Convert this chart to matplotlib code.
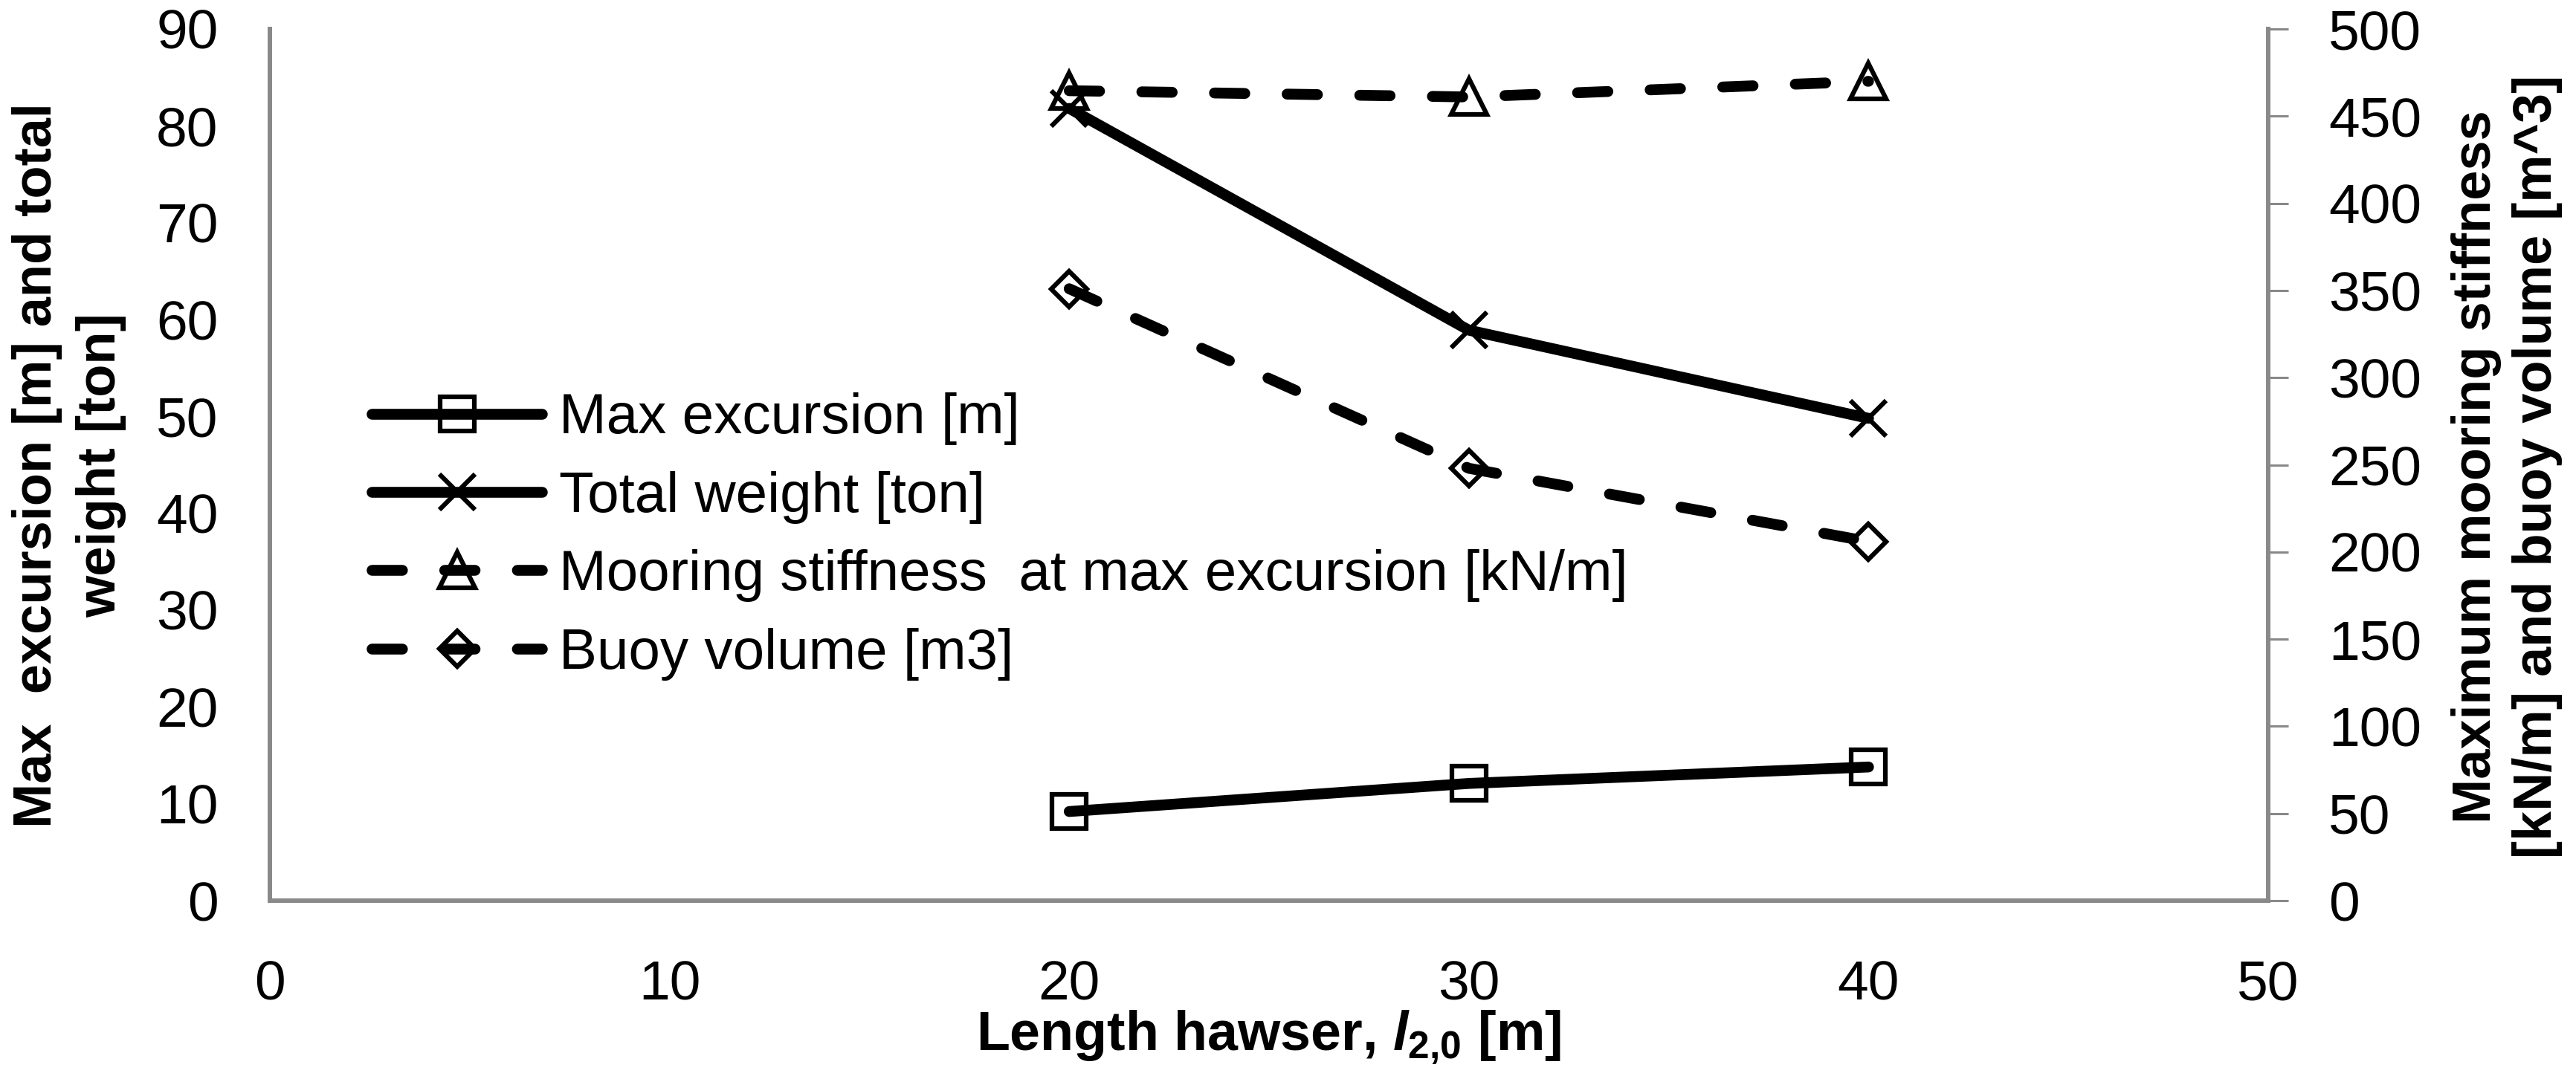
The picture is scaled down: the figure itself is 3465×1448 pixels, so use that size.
import matplotlib
matplotlib.use('Agg')
import matplotlib.pyplot as plt

# data
hawser_length = [20, 30, 40]
max_excursion = [9.2, 12.1, 13.8]
total_weight = [81.8, 58.9, 49.8]
mooring_stiffness = [464.6, 461.0, 470.0]
buoy_volume = [351.0, 248.0, 206.0]

x_ticks = [0, 10, 20, 30, 40, 50]
left_ticks = list(range(0, 91, 10))
right_ticks = list(range(0, 501, 50))

FONT = ['Liberation Sans', 'DejaVu Sans']
plt.rcParams['font.family'] = FONT
plt.rcParams['mathtext.fontset'] = 'custom'
plt.rcParams['mathtext.it'] = 'Liberation Sans:italic:bold'
plt.rcParams['mathtext.rm'] = 'Liberation Sans:bold'
plt.rcParams['mathtext.bf'] = 'Liberation Sans:bold'

GRAY = '#898989'
W, H = 3466, 1448
fig = plt.figure(figsize=(W / 100, H / 100), dpi=100)
ax = fig.add_axes([363 / W, 1 - 1212 / H, (3051 - 363) / W, (1212 - 39) / H])
ax2 = ax.twinx()

lw = 10.5
mk = dict(markerfacecolor='none', markeredgecolor='black', markeredgewidth=4.5)
dash = dict(linestyle=(0, (2.8, 3.9)), dash_capstyle='round')

l1, = ax.plot(hawser_length, max_excursion, color='black', lw=lw, marker='s',
              markersize=33, solid_capstyle='round', label='Max excursion [m]', **mk)
l2, = ax.plot(hawser_length, total_weight, color='black', lw=lw, marker='x',
              markersize=34, solid_capstyle='round', label='Total weight [ton]', **mk)
l3, = ax2.plot(hawser_length, mooring_stiffness, color='black', lw=lw, marker='^',
               markersize=34, label='Mooring stiffness  at max excursion [kN/m]', **dash, **mk)
l4, = ax2.plot(hawser_length, buoy_volume, color='black', lw=lw, marker='D',
               markersize=24, label='Buoy volume [m3]', **dash, **mk)

ax.set_xlim(0, 50)
ax.set_ylim(0, 90)
ax2.set_ylim(0, 500)
ax.set_xticks(x_ticks)
ax.set_yticks(left_ticks)
ax2.set_yticks(right_ticks)

for a in (ax, ax2):
    for s in a.spines.values():
        s.set_visible(False)
ax.spines['left'].set_visible(True)
ax.spines['bottom'].set_visible(True)
ax2.spines['right'].set_visible(True)
for s in (ax.spines['left'], ax.spines['bottom'], ax2.spines['right']):
    s.set_color(GRAY)
    s.set_linewidth(4.3)

ax.tick_params(axis='y', length=0, pad=50, labelsize=54)
ax.tick_params(axis='x', length=0, pad=57, labelsize=54)
ax2.tick_params(axis='y', length=19.5, width=2.2, color=GRAY, pad=39, labelsize=54)

fig.text(93 / W, 1 - 626 / H, 'Max  excursion [m] and total\nweight [ton]',
         rotation=90, ha='center', va='center', multialignment='center',
         fontsize=52, fontweight='bold', linespacing=1.35)
fig.text(3372 / W, 1 - 628 / H, 'Maximum mooring stiffness\n[kN/m] and buoy volume [m^3]',
         rotation=90, ha='center', va='center', multialignment='center',
         fontsize=52, fontweight='bold', linespacing=1.25)
fig.text(1707 / W, 1 - 1413 / H, r'Length hawser, $\mathit{l}_{\mathit{2{,}0}}$ [m]',
         ha='center', va='baseline', fontsize=53, fontweight='bold')

leg = fig.legend(handles=[l1, l2, l3, l4], loc='center left',
                 bbox_to_anchor=(500 / W, 1 - 722 / H), frameon=False,
                 fontsize=55, handlelength=3.0, handletextpad=0.3,
                 labelspacing=0.45, borderpad=0, borderaxespad=0)

fig.savefig('out.png', dpi=100)
